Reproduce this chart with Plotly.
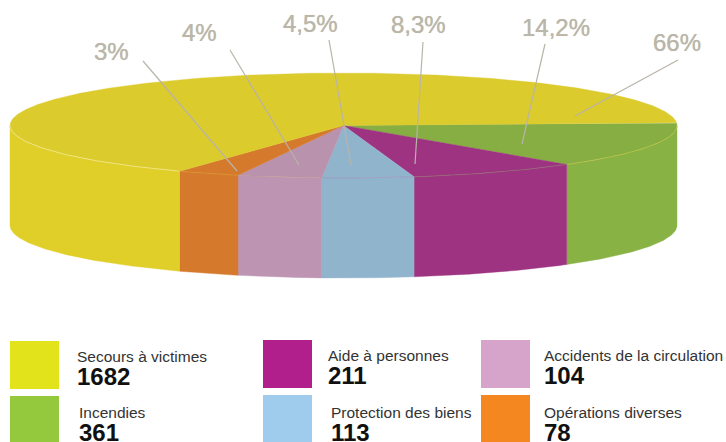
import numpy as np
import plotly.graph_objects as go

categories = ["Incendies", "Aide à personnes", "Protection des biens",
              "Accidents de la circulation", "Opérations diverses", "Secours à victimes"]
values = [361, 211, 113, 104, 78, 1682]
pct_labels = ["14,2%", "8,3%", "4,5%", "4%", "3%", "66%"]

top_colors = ["#86AE43", "#9E3381", "#91B4CD", "#B992AE", "#D57A2C", "#DCCB2D"]
side_colors = ["#89B245", "#9E3381", "#91B4CD", "#BD95B3", "#D57A2C", "#E1CF29"]
rim_colors = ["#C9C844", "#8F7A6C", "#A58FB8", "#C49A8A", "#D9A02C", "#F7F0B0"]
legend_colors = ["#95C93D", "#B01F8B", "#9FCBEC", "#D6A3CB", "#F58720", "#E2E31A"]

# pie geometry (pixels)
CX, CY, A, B, H = 343.5, 125.5, 333.5, 52.5, 100
START = -3.0
W, HT = 726, 442

# layout of labels and legend (pixels)
label_xy = [(556, 27), (418, 24), (310, 23), (199, 32), (111, 51), (677, 42)]
leader_from = [(545, 44), (423, 42), (329, 40), (230, 50), (143, 61), (678, 60)]
leader_to = [(522, 144), (415, 164), (351, 165), (299, 165), (237, 171), (575, 116)]
swatch_box = [(10, 396), (263, 340), (263, 395), (481, 340), (481, 395), (10, 341)]
text_xy = [(77, 412), (326, 355), (329, 412), (542, 355), (542, 412), (75, 356)]

fig = go.Figure()


def rim(t0, t1, dy=0.0):
    n = max(2, int(abs(t1 - t0) * 2) + 2)
    t = np.radians(np.linspace(t0, t1, n))
    return CX + A * np.cos(t), CY + B * np.sin(t) + dy


edges = START + np.concatenate([[0], np.cumsum(values)]) / sum(values) * 360.0

# top faces
for i, c in enumerate(top_colors):
    x, y = rim(edges[i], edges[i + 1])
    fig.add_trace(go.Scatter(
        x=np.r_[CX, x, CX], y=np.r_[CY, y, CY], mode="lines", fill="toself",
        fillcolor=c, line=dict(color=c, width=0.4), hoverinfo="skip", showlegend=False))

# side faces: only the near half of the cylinder is visible
for i, c in enumerate(side_colors):
    t0, t1 = max(edges[i], 0.0), min(edges[i + 1], 180.0)
    if t1 <= t0:
        continue
    x0, y0 = rim(t0, t1)
    x1, y1 = rim(t0, t1, H)
    fig.add_trace(go.Scatter(
        x=np.r_[x0, x1[::-1], x0[0]], y=np.r_[y0, y1[::-1], y0[0]], mode="lines", fill="toself",
        fillcolor=c, line=dict(color=c, width=0.4), hoverinfo="skip", showlegend=False))
    fig.add_trace(go.Scatter(
        x=x0, y=y0, mode="lines", line=dict(color=rim_colors[i], width=0.6),
        hoverinfo="skip", showlegend=False))

# leader lines
for p, q in zip(leader_from, leader_to):
    fig.add_trace(go.Scatter(
        x=[p[0], q[0]], y=[p[1], q[1]], mode="lines",
        line=dict(color="#B8B4A8", width=1.2), hoverinfo="skip", showlegend=False))

# percentage labels
for (x, y), t in zip(label_xy, pct_labels):
    fig.add_annotation(x=x, y=y, text=t, showarrow=False, xanchor="center", yanchor="middle",
                       font=dict(family="Liberation Sans", size=24, color="#BBB6A9",
                                 shadow="0 0 0.7px #BBB6A9"))

# legend
for (sx, sy), c in zip(swatch_box, legend_colors):
    fig.add_shape(type="rect", x0=sx, x1=sx + 49, y0=sy, y1=sy + 48,
                  fillcolor=c, line_width=0, layer="below")
for (x, y), name, v in zip(text_xy, categories, values):
    fig.add_annotation(x=x, y=y, text=name, showarrow=False, xanchor="left", yanchor="middle",
                       font=dict(family="Liberation Sans", size=15.5, color="#333333"))
    fig.add_annotation(x=x, y=y + 20, text=f"<b>{v}</b>", showarrow=False, xanchor="left", yanchor="middle",
                       font=dict(family="Liberation Sans", size=24, color="#111111"))

fig.update_layout(
    width=W, height=HT, margin=dict(l=0, r=0, t=0, b=0),
    paper_bgcolor="white", plot_bgcolor="white", showlegend=False,
    xaxis=dict(range=[0, W], visible=False, fixedrange=True),
    yaxis=dict(range=[HT, 0], visible=False, fixedrange=True),
)
fig.write_html("out.html", config={"displayModeBar": False},
               post_script="document.body.style.margin='0';document.documentElement.style.overflow='hidden';")
